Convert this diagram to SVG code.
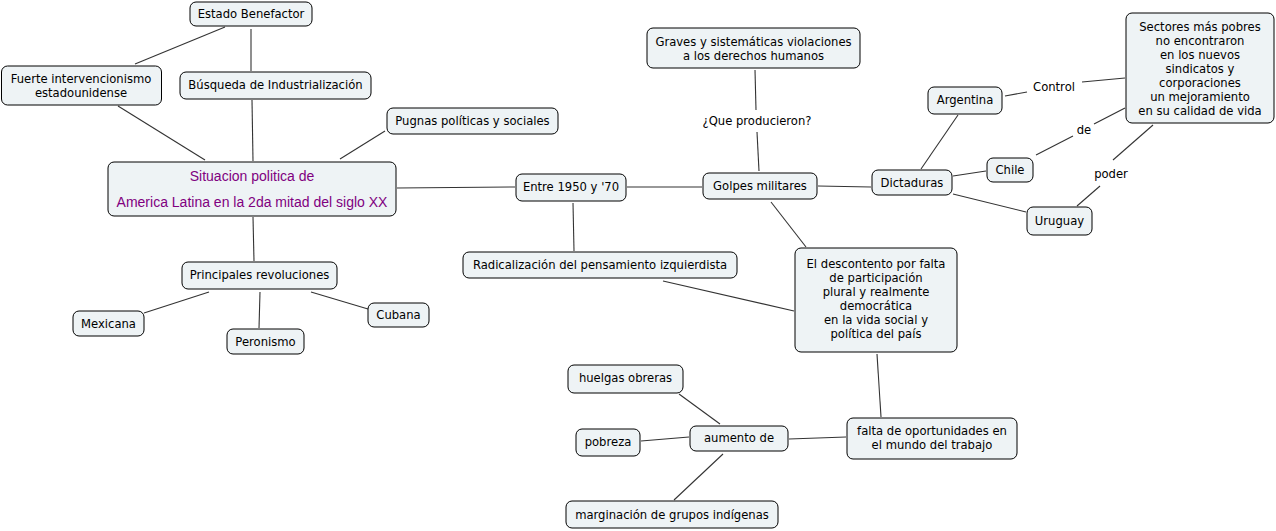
<svg xmlns="http://www.w3.org/2000/svg" width="1276" height="531" viewBox="0 0 1276 531">
<style>
.n rect{fill:#eef3f5;stroke:#000;stroke-width:1}
.n text,.lbl{font-family:"DejaVu Sans",Verdana,sans-serif;font-size:11.6px;fill:#000;text-anchor:middle}
.t text{font-family:"Liberation Sans",Arial,sans-serif;font-size:14px;fill:#800080;text-anchor:middle}
#connectors line{stroke:#333;stroke-width:1.1}
</style>
<rect width="1276" height="531" fill="#fff"/>
<g id="connectors">
<line x1="225" y1="27" x2="135" y2="64"/>
<line x1="251" y1="29" x2="251" y2="71"/>
<line x1="252" y1="100" x2="253" y2="161"/>
<line x1="118" y1="106" x2="205" y2="160"/>
<line x1="385" y1="131" x2="340" y2="159"/>
<line x1="397" y1="188" x2="515" y2="187"/>
<line x1="627" y1="187" x2="702" y2="187"/>
<line x1="573" y1="203" x2="574" y2="251"/>
<line x1="663" y1="281" x2="794" y2="311"/>
<line x1="771" y1="202" x2="806" y2="247"/>
<line x1="759" y1="171" x2="757" y2="132"/>
<line x1="756" y1="110" x2="755" y2="70"/>
<line x1="818" y1="186" x2="871" y2="187"/>
<line x1="921" y1="169" x2="958" y2="115"/>
<line x1="953" y1="176" x2="986" y2="171"/>
<line x1="953" y1="194" x2="1026" y2="212"/>
<line x1="1005" y1="96" x2="1027" y2="92"/>
<line x1="1082" y1="82" x2="1125" y2="78"/>
<line x1="1036" y1="155" x2="1073" y2="136"/>
<line x1="1094" y1="124" x2="1125" y2="108"/>
<line x1="1077" y1="206" x2="1100" y2="186"/>
<line x1="1113" y1="160" x2="1153" y2="125"/>
<line x1="253" y1="217" x2="254" y2="261"/>
<line x1="209" y1="292" x2="144" y2="313"/>
<line x1="260" y1="292" x2="259" y2="328"/>
<line x1="311" y1="292" x2="368" y2="309"/>
<line x1="877" y1="354" x2="881" y2="417"/>
<line x1="846" y1="437" x2="789" y2="439"/>
<line x1="720" y1="424" x2="679" y2="394"/>
<line x1="689" y1="437" x2="641" y2="441"/>
<line x1="723" y1="454" x2="674" y2="500"/>
</g>
<text class="lbl" x="757" y="125">¿Que producieron?</text>
<text class="lbl" x="1054" y="91">Control</text>
<text class="lbl" x="1084" y="134">de</text>
<text class="lbl" x="1111" y="178">poder</text>
<g id="n-estado" class="n"><rect x="190" y="2" width="122" height="24" rx="6"/><text x="251" y="18">Estado Benefactor</text></g>
<g id="n-fuerte" class="n"><rect x="1.5" y="66" width="160" height="39" rx="6"/><text x="81" y="83">Fuerte intervencionismo</text><text x="81" y="97">estadounidense</text></g>
<g id="n-busqueda" class="n"><rect x="180" y="72" width="191" height="27" rx="6"/><text x="275.5" y="89">Búsqueda de Industrialización</text></g>
<g id="n-pugnas" class="n"><rect x="387" y="108" width="171" height="26" rx="6"/><text x="472.5" y="125">Pugnas políticas y sociales</text></g>
<g id="n-situacion" class="n t"><rect x="108" y="162" width="288" height="54" rx="6"/><text x="252" y="181">Situacion politica de</text><text x="252" y="207">America Latina en la 2da mitad del siglo XX</text></g>
<g id="n-entre" class="n"><rect x="516" y="174" width="110" height="27" rx="6"/><text x="571" y="191">Entre 1950 y '70</text></g>
<g id="n-golpes" class="n"><rect x="703" y="173" width="114" height="26" rx="6"/><text x="760" y="190">Golpes militares</text></g>
<g id="n-graves" class="n"><rect x="647" y="28" width="213" height="40" rx="6"/><text x="753.5" y="46">Graves y sistemáticas violaciones</text><text x="753.5" y="60">a los derechos humanos</text></g>
<g id="n-sectores" class="n"><rect x="1126" y="13" width="148" height="110" rx="6"/><text x="1200" y="31">Sectores más pobres</text><text x="1200" y="45">no encontraron</text><text x="1200" y="59">en los nuevos</text><text x="1200" y="73">sindicatos y</text><text x="1200" y="87">corporaciones</text><text x="1200" y="101">un mejoramiento</text><text x="1200" y="115">en su calidad de vida</text></g>
<g id="n-argentina" class="n"><rect x="928" y="87" width="74" height="27" rx="6"/><text x="965" y="104">Argentina</text></g>
<g id="n-chile" class="n"><rect x="987" y="158" width="46" height="24" rx="6"/><text x="1010" y="174">Chile</text></g>
<g id="n-dictaduras" class="n"><rect x="872" y="170" width="80" height="25" rx="6"/><text x="912" y="187">Dictaduras</text></g>
<g id="n-uruguay" class="n"><rect x="1027" y="207" width="65" height="28" rx="6"/><text x="1059.5" y="225">Uruguay</text></g>
<g id="n-principales" class="n"><rect x="182" y="262" width="155" height="27" rx="6"/><text x="259.5" y="279">Principales revoluciones</text></g>
<g id="n-mexicana" class="n"><rect x="73" y="311" width="71" height="25" rx="6"/><text x="108.5" y="328">Mexicana</text></g>
<g id="n-peronismo" class="n"><rect x="227" y="329" width="77" height="25" rx="6"/><text x="265.5" y="346">Peronismo</text></g>
<g id="n-cubana" class="n"><rect x="368" y="303" width="61" height="24" rx="6"/><text x="398.5" y="319">Cubana</text></g>
<g id="n-radicalizacion" class="n"><rect x="463" y="252" width="274" height="26" rx="6"/><text x="600" y="269">Radicalización del pensamiento izquierdista</text></g>
<g id="n-descontento" class="n"><rect x="795" y="248" width="162" height="104" rx="6"/><text x="876" y="268">El descontento por falta</text><text x="876" y="282">de participación</text><text x="876" y="296">plural y realmente</text><text x="876" y="310"> democrática</text><text x="876" y="324">en la vida social y</text><text x="876" y="338"> política del país</text></g>
<g id="n-huelgas" class="n"><rect x="568" y="365" width="115" height="28" rx="6"/><text x="625.5" y="382">huelgas obreras</text></g>
<g id="n-pobreza" class="n"><rect x="576" y="429" width="64" height="27" rx="6"/><text x="608" y="446">pobreza</text></g>
<g id="n-aumento" class="n"><rect x="690" y="426" width="98" height="25" rx="6"/><text x="739" y="442">aumento de</text></g>
<g id="n-marginacion" class="n"><rect x="566" y="501" width="212" height="27" rx="6"/><text x="672" y="519">marginación de grupos indígenas</text></g>
<g id="n-falta" class="n"><rect x="847" y="418" width="170" height="41" rx="6"/><text x="932" y="435">falta de oportunidades en</text><text x="932" y="449">el mundo del trabajo</text></g>
</svg>
